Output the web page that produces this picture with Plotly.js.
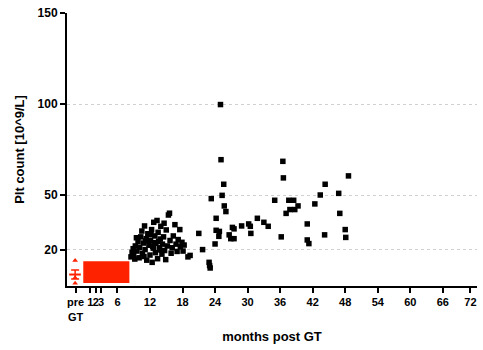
<!DOCTYPE html>
<html>
<head>
<meta charset="utf-8">
<script src="https://cdn.plot.ly/plotly-3.0.1.min.js"></script>
<style>html,body{margin:0;padding:0;background:#fff;}#chart{width:483px;height:350px;}</style>
</head>
<body>
<div id="chart"></div>
<script>
// ---- data ----
const xTickVals = [-1.7, 1, 2, 3, 6, 12, 18, 24, 30, 36, 42, 48, 54, 60, 66, 71.1];
const xTickText = ['pre<br>GT', '1', '2', '3', '6', '12', '18', '24', '30', '36', '42', '48', '54', '60', '66', '72'];
const yTickVals = [20, 50, 100, 150];

// pre-GT values
const preX = [-1.8, -1.8, -1.8];
const preY = [14.0, 4.5, 1.5];
const preMean = 6.3;
const preSD = 2.5;

// post-GT range box (months 0-8)
const boxStart = -0.3, boxEnd = 8.2, boxLow = 1.7, boxHigh = 13.6;

// post-GT platelet counts (months, values)
const postMonths = [
  8.5, 8.7, 8.9, 9.0, 9.3, 9.6, 9.8, 10.0, 10.1, 10.3, 10.5, 10.6, 10.8, 11.0, 11.1,
  11.3, 11.4, 11.6, 11.8, 12.0, 12.1, 12.3, 12.4, 12.6, 12.7, 12.9, 13.0, 13.1, 13.3,
  13.4, 13.5, 13.7, 13.9, 14.0, 14.2, 14.3, 14.5, 14.7, 14.9, 15.0, 15.2, 15.4, 15.6,
  15.7, 15.9, 16.1, 16.3, 16.6, 16.8, 17.0, 17.2, 17.5, 17.6, 17.9, 18.1, 18.3, 19.0,
  19.4, 9.2, 10.9, 12.2, 13.8, 14.6, 11.2, 12.8, 9.5, 12.5, 13.6,
  25.0, 25.1, 36.5, 36.6, 48.6, 25.6, 25.3, 23.3, 25.7, 26.0, 24.2, 24.2, 24.8, 24.7, 24.0,
  21.0, 21.7, 27.2, 27.5, 26.6, 26.9, 27.5, 28.9, 30.2, 30.5, 30.6, 31.8, 33.0, 33.8,
  35.0, 36.2, 37.6, 38.5, 37.1, 37.8, 38.7, 39.3, 41.0, 41.0, 41.3, 42.4, 43.4, 44.3,
  44.2, 46.8, 47.0, 48.0, 48.1, 22.9, 23.0, 23.1
];
const postValues = [
  16, 18.5, 20.5, 17.3, 22, 19.2, 24.5, 15.5, 21.3, 27, 30.2, 18, 23.6, 33, 20,
  26, 14.2, 28.7, 22.4, 17, 25, 31, 13, 20.8, 35, 27.5, 18.3, 23.5, 36,
  15, 29.5, 21, 25.8, 32.8, 17.5, 23, 27, 19.5, 14.5, 30.8, 22, 39, 40,
  25, 18, 21, 27.5, 33.7, 23, 19, 25.5, 31, 21.5, 24, 19.2, 22.5, 16,
  16.8, 14.8, 16.2, 28.2, 19.8, 34.5, 24.8, 23.8, 26.5, 21.8, 24.6,
  99.7, 69.4, 68.5, 59.4, 60.5, 55.9, 49.8, 48.0, 44.0, 40.9, 37.2, 30.6, 30.0, 27.3, 23.1,
  28.9, 20.0, 32.2, 31.4, 28.1, 26.0, 26.0, 33.0, 34.1, 32.8, 28.9, 37.2, 35.0, 32.8,
  47.1, 27.0, 47.1, 47.1, 39.9, 42.0, 42.0, 44.0, 34.1, 25.3, 23.3, 45.1, 50.0, 55.9,
  28.1, 50.9, 39.9, 31.0, 26.7, 13.0, 11.2, 9.9
];

const red = '#ff2200';
const fontFam = '"Liberation Sans", Arial, Helvetica, sans-serif';

const traces = [
  {
    type: 'bar', x: [(boxStart + boxEnd) / 2], y: [boxHigh - boxLow], base: [boxLow],
    width: [boxEnd - boxStart], marker: {color: red, line: {width: 0}},
    hoverinfo: 'skip', showlegend: false
  },
  {
    type: 'scatter', mode: 'markers', x: preX, y: preY,
    marker: {symbol: 'triangle-up', size: 5, color: red}, showlegend: false
  },
  {
    type: 'scatter', mode: 'lines', x: [-2.9, -0.75], y: [preMean, preMean],
    line: {color: red, width: 2}, showlegend: false
  },
  {
    type: 'scatter', mode: 'markers', x: [-1.8], y: [preMean],
    marker: {size: 1, color: red},
    error_y: {type: 'data', array: [preSD], color: red, thickness: 1.5, width: 4},
    showlegend: false
  },
  {
    type: 'scatter', mode: 'markers', x: postMonths, y: postValues,
    marker: {symbol: 'square', size: 5.5, color: '#000'}, showlegend: false
  }
];

const layout = {
  width: 483, height: 350,
  margin: {l: 67, r: 6, t: 13, b: 64},
  paper_bgcolor: '#fff', plot_bgcolor: '#fff',
  font: {family: fontFam, color: '#000'},
  barmode: 'overlay',
  xaxis: {
    range: [-3.3, 72.3],
    tickmode: 'array', tickvals: xTickVals, ticktext: xTickText, tickangle: 0,
    tickfont: {size: 11, weight: 'bold', family: fontFam},
    ticks: 'outside', ticklen: 5, tickwidth: 2, tickcolor: '#000',
    showline: true, linecolor: '#000', linewidth: 2,
    showgrid: false, zeroline: false,
    title: {text: 'months post GT', font: {size: 13, weight: 'bold', family: fontFam}, standoff: 10}
  },
  yaxis: {
    range: [0, 150],
    tickmode: 'array', tickvals: yTickVals,
    tickfont: {size: 12, weight: 'bold', family: fontFam},
    ticks: 'outside', ticklen: 5, tickwidth: 2, tickcolor: '#000',
    showline: true, linecolor: '#000', linewidth: 2,
    showgrid: true, gridcolor: '#d0d0d0', griddash: 'dot', gridwidth: 1,
    zeroline: false,
    title: {text: 'Plt count [10^9/L]', font: {size: 13, weight: 'bold', family: fontFam}, standoff: 10}
  }
};

Plotly.newPlot('chart', traces, layout, {displayModeBar: false, staticPlot: true});
</script>
</body>
</html>
